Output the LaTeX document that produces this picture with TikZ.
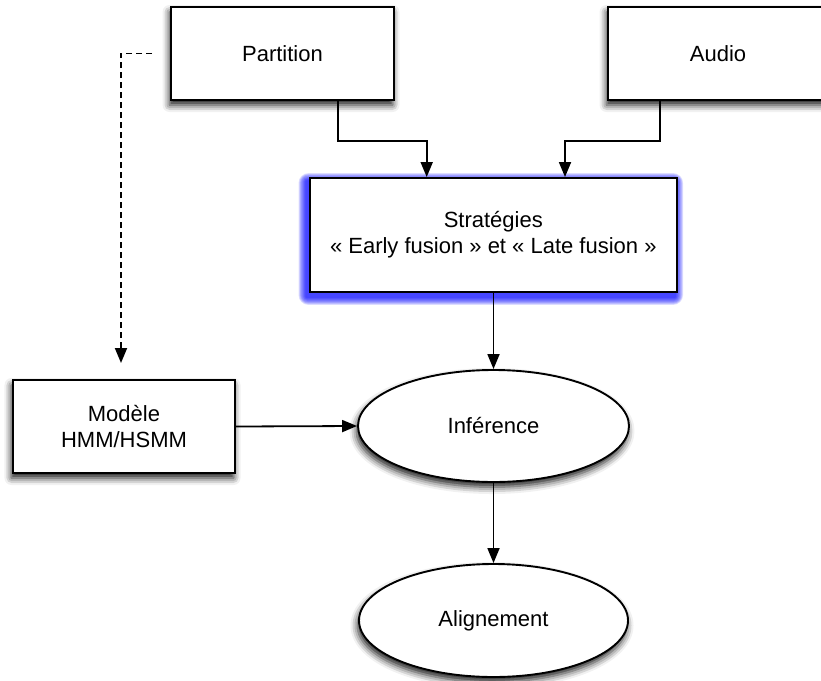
\documentclass[tikz,border=0pt]{standalone}
\usepackage{fontspec}
\setmainfont{Liberation Sans}
\usetikzlibrary{arrows.meta,shapes.geometric,shadows.blur,backgrounds}
\begin{document}
\begin{tikzpicture}[x=1pt,y=-1pt,
  every node/.style={font=\fontsize{22}{26}\selectfont, align=center},
  sh/.style={blur shadow={shadow xshift=-1.5pt, shadow yshift=-5pt, shadow blur radius=7pt, shadow opacity=90}},
  boxnode/.style={draw=black, line width=1.9pt, fill=white, rectangle, inner sep=0pt, sh},
  ellnode/.style={draw=black, line width=1.9pt, fill=white, ellipse, inner sep=0pt, sh},
  conn/.style={line width=1.8pt, -{Triangle[length=15pt,width=12pt]}},
  dconn/.style={conn, dash pattern=on 6pt off 4pt}]
\clip (0,0) rectangle (821,680);

\node[boxnode, minimum width=223pt, minimum height=93pt] (P) at (282.5,53.5) {Partition};
\node[boxnode, minimum width=220pt, minimum height=93pt] (Au) at (718,53.5) {Audio};
\node[draw=black, line width=1.9pt, fill=white, rectangle, inner sep=0pt,
      minimum width=366.7pt, minimum height=114pt] (S) at (493.3,235)
      {Stratégies\\« Early fusion » et « Late fusion »};
\node[boxnode, minimum width=222pt, minimum height=93pt] (M) at (124,426.5) {Modèle\\HMM/HSMM};
\node[ellnode, minimum width=271pt, minimum height=112pt] (I) at (493.5,426) {Inférence};
\node[ellnode, minimum width=269pt, minimum height=113pt] (A) at (493.5,620.5) {Alignement};

\begin{scope}[on background layer]
  \foreach \i in {1,...,10}{
    \fill[blue, opacity=0.12, rounded corners=\i pt]
      ([xshift=-2.5pt-0.8*\i pt, yshift=-4pt-0.8*\i pt]S.south west) rectangle
      ([xshift=-2.5pt+0.8*\i pt, yshift=-4pt+0.8*\i pt]S.north east);
  }
\end{scope}

\coordinate (dEnd) at (121,363);

\draw[conn] ([xshift=55.2pt]P.south) -- ++(0,40) -| ([xshift=-66.6pt]S.north);
\draw[conn] ([xshift=-58pt]Au.south) -- ++(0,40) -| ([xshift=71.7pt]S.north);
\draw[conn] (S.south -| I.north) -- (I.north);
\draw[conn] (M.east) -- (I.west);
\draw[conn] (I.south) -- (A.north);
\draw[dconn] ([xshift=-18pt]P.west) -| (dEnd);
\end{tikzpicture}
\end{document}
